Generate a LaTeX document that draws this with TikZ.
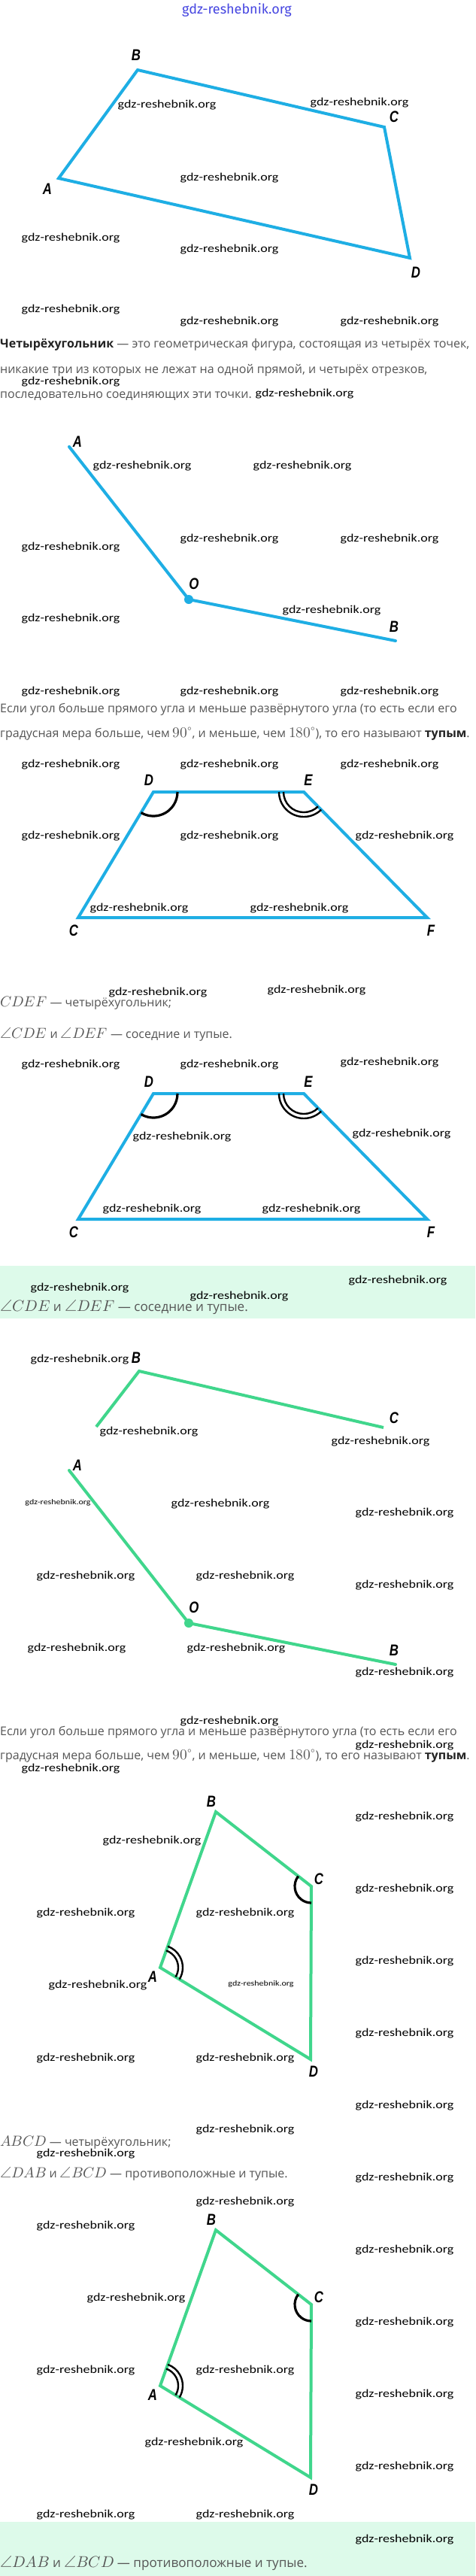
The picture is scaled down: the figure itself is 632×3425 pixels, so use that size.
\documentclass[tikz,border=0pt]{standalone}
\usepackage{fontspec}
\usepackage{unicode-math}
\setmainfont{Open Sans}
\newfontfamily\wmfont{Carlito}[FakeStretch=1.2]
\newfontfamily\lblfont{Liberation Sans}[FakeStretch=0.8]
\newfontfamily\topfont{Fira Sans}
\usetikzlibrary{angles}
\definecolor{lblue}{RGB}{30,174,228}
\definecolor{lgreen}{RGB}{64,214,140}
\definecolor{mint}{RGB}{221,250,234}
\definecolor{txtgray}{RGB}{85,85,85}
\definecolor{txtdark}{RGB}{35,35,35}
\definecolor{wmblue}{RGB}{70,70,225}
\newcommand\mth[1]{{\fontsize{19.5}{20}\selectfont$#1$}}
\newcommand\mthb[1]{{\fontsize{20.8}{21}\selectfont$#1$}}
\tikzset{
  wm/.style={font=\wmfont\fontsize{15}{15}\selectfont, inner sep=0pt, text=black},
  wms/.style={font=\wmfont\fontsize{10}{10}\selectfont, inner sep=0pt, text=black},
  txt/.style={anchor=base west, inner sep=0pt, text=txtgray, font=\fontsize{16}{18}\selectfont},
  txtbig/.style={anchor=base west, inner sep=0pt, text=txtgray, font=\fontsize{17.1}{19}\selectfont},
  lbl/.style={inner sep=0pt, font=\lblfont\bfseries\itshape\fontsize{21}{21}\selectfont},
  blueline/.style={draw=lblue, line width=4pt, line join=miter},
  greenline/.style={draw=lgreen, line width=4pt, line join=miter},
  markone/.style={draw=black, line width=3.2pt},
  marktwo/.style={draw=black, line width=2.4pt},
}
\begin{document}
\begin{tikzpicture}[x=1pt,y=-1pt]
\useasboundingbox (0,0) rectangle (632,3425);
\fill[white] (0,0) rectangle (632,3425);
\fill[mint] (0,1683) rectangle (632,1753);
\fill[mint] (0,3353) rectangle (632,3425);

\node[font=\topfont\fontsize{18}{18}\selectfont, text=wmblue, inner sep=0pt] (top) at (315,13) {gdz-reshebnik.org};

% ---------- texts ----------
\node[txt] (t1) at (0,462) {\textbf{\color{txtdark}Четырёхугольник} — это геометрическая фигура, состоящая из четырёх точек,};
\node[txt] (t2) at (0,496) {никакие три из которых не лежат на одной прямой, и четырёх отрезков,};
\node[txt] (t3) at (0,529) {последовательно соединяющих эти точки.};
\node[txt] (t4) at (0,947) {Если угол больше прямого угла и меньше развёрнутого угла (то есть если его};
\node[txt] (t5) at (0,980) {градусная мера больше, чем \mth{90^\circ}, и меньше, чем \mth{180^\circ}), то его называют \textbf{\color{txtdark}тупым}.};
\node[txt] (t6) at (0,1338) {\mth{CDEF} — четырёхугольник;};
\node[txt] (t7) at (0,1380) {\mth{\angle CDE} и \mth{\angle DEF} — соседние и тупые.};
\node[txtbig] (t8) at (0,1743) {\mthb{\angle CDE} и \mthb{\angle DEF} — соседние и тупые.};
\node[txt] (t9) at (0,2307) {Если угол больше прямого угла и меньше развёрнутого угла (то есть если его};
\node[txt] (t10) at (0,2339) {градусная мера больше, чем \mth{90^\circ}, и меньше, чем \mth{180^\circ}), то его называют \textbf{\color{txtdark}тупым}.};
\node[txt] (t11) at (0,2853) {\mth{ABCD} — четырёхугольник;};
\node[txt] (t12) at (0,2895) {\mth{\angle DAB} и \mth{\angle BCD} — противоположные и тупые.};
\node[txtbig] (t13) at (0,3413) {\mthb{\angle DAB} и \mthb{\angle BCD} — противоположные и тупые.};

% ---------- figure 1 ----------
\coordinate (A1) at (78,237);
\coordinate (B1) at (183,93);
\coordinate (C1) at (511,169);
\coordinate (D1) at (545,343);
\draw[blueline] (A1) -- (B1) -- (C1) -- (D1) -- cycle;
\node[lbl] (lA1) at (63,251) {A};
\node[lbl] (lB1) at (181,73) {B};
\node[lbl] (lC1) at (524,155) {C};
\node[lbl] (lD1) at (553,362) {D};

% ---------- figure 2 ----------
\coordinate (A2) at (92,594);
\coordinate (O2) at (251,797);
\coordinate (B2) at (526,852);
\draw[blueline, line cap=round] (A2) -- (O2) -- (B2);
\fill[lblue] (O2) circle[radius=6pt];
\node[lbl] (lA2) at (103,587) {A};
\node[lbl] (lO2) at (258,776) {O};
\node[lbl] (lB2) at (524,833) {B};

% ---------- figure 3 ----------
\coordinate (D3) at (204,1053);
\coordinate (E3) at (404,1053);
\coordinate (C3) at (104,1220);
\coordinate (F3) at (568,1220);
\draw[blueline] (C3) -- (D3) -- (E3) -- (F3) -- cycle;
\pic[markone, angle radius=32pt] {angle=C3--D3--E3};
\pic[marktwo, angle radius=27pt] {angle=D3--E3--F3};
\pic[marktwo, angle radius=33pt] {angle=D3--E3--F3};
\node[lbl] (lD3) at (198,1037) {D};
\node[lbl] (lE3) at (410,1037) {E};
\node[lbl] (lC3) at (98,1237) {C};
\node[lbl] (lF3) at (573,1237) {F};

% ---------- figure 4 ----------
\coordinate (D4) at (204,1454);
\coordinate (E4) at (404,1454);
\coordinate (C4) at (104,1621);
\coordinate (F4) at (568,1621);
\draw[blueline] (C4) -- (D4) -- (E4) -- (F4) -- cycle;
\pic[markone, angle radius=32pt] {angle=C4--D4--E4};
\pic[marktwo, angle radius=27pt] {angle=D4--E4--F4};
\pic[marktwo, angle radius=33pt] {angle=D4--E4--F4};
\node[lbl] (lD4) at (198,1438) {D};
\node[lbl] (lE4) at (410,1438) {E};
\node[lbl] (lC4) at (98,1638) {C};
\node[lbl] (lF4) at (573,1638) {F};

% ---------- figure 5 ----------
\coordinate (P5) at (128,1897);
\coordinate (B5) at (185,1823);
\coordinate (C5) at (510,1898);
\draw[greenline] (P5) -- (B5) -- (C5);
\node[lbl] (lB5) at (181,1805) {B};
\node[lbl] (lC5) at (524,1885) {C};

% ---------- figure 6 ----------
\coordinate (A6) at (92,1955);
\coordinate (O6) at (251,2158);
\coordinate (B6) at (526,2213);
\draw[greenline, line cap=round] (A6) -- (O6) -- (B6);
\fill[lgreen] (O6) circle[radius=6pt];
\node[lbl] (lA6) at (103,1948) {A};
\node[lbl] (lO6) at (258,2137) {O};
\node[lbl] (lB6) at (524,2194) {B};

% ---------- figure 7 ----------
\coordinate (A7) at (213,2616);
\coordinate (B7) at (287,2409);
\coordinate (C7) at (414,2508);
\coordinate (D7) at (413,2738);
\draw[greenline] (A7) -- (B7) -- (C7) -- (D7) -- cycle;
\pic[markone, angle radius=22pt] {angle=B7--C7--D7};
\pic[marktwo, angle radius=24pt] {angle=D7--A7--B7};
\pic[marktwo, angle radius=30pt] {angle=D7--A7--B7};
\node[lbl] (lB7) at (281,2395) {B};
\node[lbl] (lC7) at (424,2498) {C};
\node[lbl] (lA7) at (203,2628) {A};
\node[lbl] (lD7) at (417,2754) {D};

% ---------- figure 8 ----------
\coordinate (A8) at (213,3172);
\coordinate (B8) at (287,2965);
\coordinate (C8) at (414,3064);
\coordinate (D8) at (413,3294);
\draw[greenline] (A8) -- (B8) -- (C8) -- (D8) -- cycle;
\pic[markone, angle radius=22pt] {angle=B8--C8--D8};
\pic[marktwo, angle radius=24pt] {angle=D8--A8--B8};
\pic[marktwo, angle radius=30pt] {angle=D8--A8--B8};
\node[lbl] (lB8) at (281,2951) {B};
\node[lbl] (lC8) at (424,3054) {C};
\node[lbl] (lA8) at (203,3184) {A};
\node[lbl] (lD8) at (417,3310) {D};

% ---------- watermarks ----------
\foreach \p [count=\i] in {(222,140),(478,137),(305,237),(94,317),(305,332),(94,412),(305,428),(518,428),
 (94,508),(405,524),(189,620),(402,620),(305,717),(518,717),(94,728),(441,812),(94,823),
 (94,920),(305,920),(518,920),(94,1017),(305,1017),(518,1017),(94,1112),(305,1112),(538,1112),(185,1208),(398,1208),
 (210,1320),(421,1317),(94,1416),(305,1416),(518,1413),(242,1512),(534,1508),(202,1608),(414,1608),
 (529,1703),(106,1713),(318,1724),
 (106,1808),(198,1904),(506,1917),(293,2000),(538,2012),(114,2096),(326,2096),(538,2108),
 (102,2192),(314,2192),(538,2224),(305,2289),(538,2321),(94,2352),(538,2416),(202,2448),(538,2512),
 (114,2544),(326,2544),(538,2608),(130,2640),(538,2704),(114,2737),(326,2737),(538,2800),(326,2832),(114,2864),(538,2896),(326,2928),(114,2960),
 (538,2992),(181,3056),(538,3088),(114,3152),(326,3152),(538,3184),(258,3248),(538,3280),(114,3344),(326,3344),(538,3377)}
  \node[wm] (w\i) at \p {gdz-reshebnik.org};
\node[wms] (ws1) at (77,1998) {gdz-reshebnik.org};
\node[wms] (ws2) at (347,2638) {gdz-reshebnik.org};
\end{tikzpicture}
\end{document}
